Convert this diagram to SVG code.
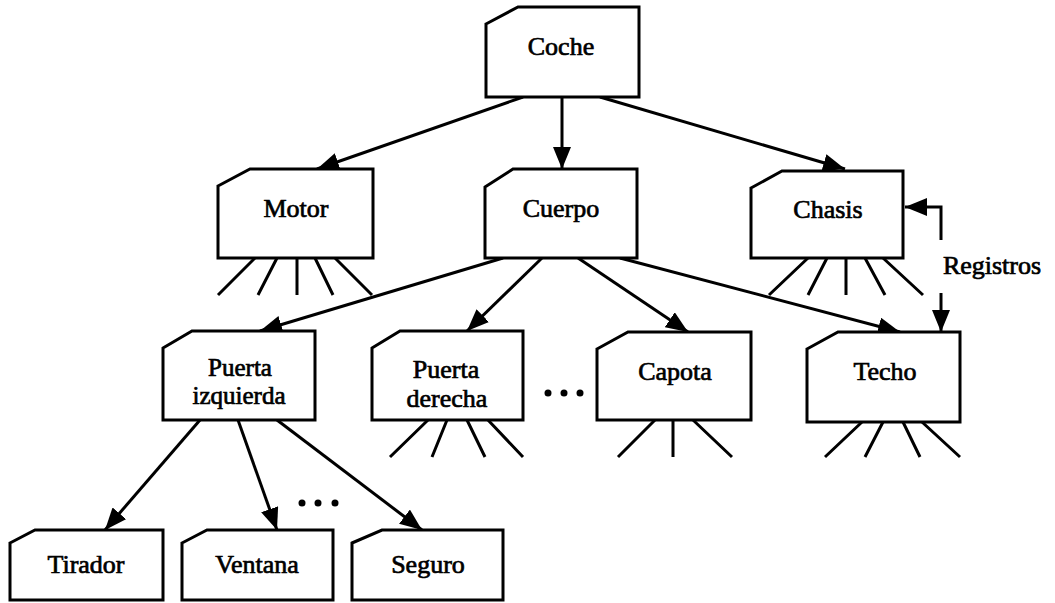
<svg xmlns="http://www.w3.org/2000/svg" width="1055" height="603" viewBox="0 0 1055 603">
<style>
.box{fill:#fff;stroke:#000;stroke-width:3;stroke-linejoin:miter}
.lbl{font-family:"Liberation Serif","Times New Roman",serif;font-size:26px;fill:#000;stroke:#000;stroke-width:0.7;text-anchor:middle}
.sm{font-size:25px}
.edge{fill:none;stroke:#000;stroke-width:3}
.leg{fill:none;stroke:#000;stroke-width:3}
.dot{fill:#000}
</style>
<defs>
<marker id="ah" markerUnits="userSpaceOnUse" markerWidth="24" markerHeight="18" refX="22" refY="9" orient="auto">
<path d="M0,0 L22,9 L0,18 Z" fill="#000"/>
</marker>
</defs>
<rect width="1055" height="603" fill="#fff"/>
<g id="connectors">
<line class="edge" x1="523" y1="97" x2="317" y2="169" marker-end="url(#ah)"/>
<line class="edge" x1="562" y1="97" x2="562" y2="169" marker-end="url(#ah)"/>
<line class="edge" x1="600" y1="97" x2="845" y2="169" marker-end="url(#ah)"/>
<line class="edge" x1="503" y1="258" x2="260" y2="331" marker-end="url(#ah)"/>
<line class="edge" x1="542" y1="258" x2="467" y2="331" marker-end="url(#ah)"/>
<line class="edge" x1="578" y1="258" x2="688" y2="332" marker-end="url(#ah)"/>
<line class="edge" x1="620" y1="258" x2="900" y2="332" marker-end="url(#ah)"/>
<line class="edge" x1="200" y1="420" x2="105" y2="530" marker-end="url(#ah)"/>
<line class="edge" x1="238" y1="420" x2="277" y2="530" marker-end="url(#ah)"/>
<line class="edge" x1="277" y1="420" x2="422" y2="530" marker-end="url(#ah)"/>
<path class="edge" d="M941,240 L941,207 L905,207" marker-end="url(#ah)"/>
<path class="edge" d="M941,293 L941,332" marker-end="url(#ah)"/>
</g>
<g id="legs">
<path class="leg" d="M255,258 L218,295 M277,258 L258,295 M297,258 L297,295 M315,258 L333,295 M335,258 L372,295"/>
<path class="leg" d="M808,258 L769,295 M827,258 L808,295 M846,258 L846,295 M865,258 L885,295 M883,258 L923,295"/>
<path class="leg" d="M428,420 L390,457 M447,420 L432,457 M467,420 L485,457 M488,420 L523,457"/>
<path class="leg" d="M655,420 L618,457 M673,420 L673,457 M693,420 L732,457"/>
<path class="leg" d="M862,422 L825,457 M883,422 L865,457 M903,422 L920,457 M922,422 L960,457"/>
</g>
<g id="ellipsis">
<circle class="dot" cx="548" cy="393" r="3.5"/><circle class="dot" cx="564" cy="393" r="3.5"/><circle class="dot" cx="580" cy="393" r="3.5"/>
<circle class="dot" cx="302" cy="503" r="3.5"/><circle class="dot" cx="318" cy="503" r="3.5"/><circle class="dot" cx="335" cy="503" r="3.5"/>
</g>
<g id="coche"><path class="box" d="M486,24 L518,7 L639,7 L639,97 L486,97 Z"/><text class="lbl" x="561" y="55">Coche</text></g>
<g id="motor"><path class="box" d="M218,186 L250,169 L373,169 L373,258 L218,258 Z"/><text class="lbl" x="296" y="217">Motor</text></g>
<g id="cuerpo"><path class="box" d="M485,187 L513,169 L637,169 L637,258 L485,258 Z"/><text class="lbl" x="561" y="217">Cuerpo</text></g>
<g id="chasis"><path class="box" d="M751,188 L782,171 L903,171 L903,258 L751,258 Z"/><text class="lbl" x="828" y="218">Chasis</text></g>
<g id="puerta-izquierda"><path class="box" d="M163,348 L192,331 L315,331 L315,420 L163,420 Z"/><text class="lbl sm" x="240" y="376">Puerta</text><text class="lbl sm" x="239" y="404">izquierda</text></g>
<g id="puerta-derecha"><path class="box" d="M372,348 L400,331 L523,331 L523,420 L372,420 Z"/><text class="lbl" x="446" y="378">Puerta</text><text class="lbl" x="447" y="407">derecha</text></g>
<g id="capota"><path class="box" d="M597,349 L628,332 L751,332 L751,420 L597,420 Z"/><text class="lbl" x="675" y="380">Capota</text></g>
<g id="techo"><path class="box" d="M807,349 L838,332 L960,332 L960,422 L807,422 Z"/><text class="lbl" x="885" y="380">Techo</text></g>
<g id="tirador"><path class="box" d="M10,543 L35,530 L163,530 L163,600 L10,600 Z"/><text class="lbl" x="86" y="573">Tirador</text></g>
<g id="ventana"><path class="box" d="M182,543 L207,530 L333,530 L333,600 L182,600 Z"/><text class="lbl" x="257" y="573">Ventana</text></g>
<g id="seguro"><path class="box" d="M352,543 L382,530 L503,530 L503,600 L352,600 Z"/><text class="lbl" x="428" y="573">Seguro</text></g>
<g id="registros-label"><text class="lbl" x="992" y="274">Registros</text></g>
</svg>
